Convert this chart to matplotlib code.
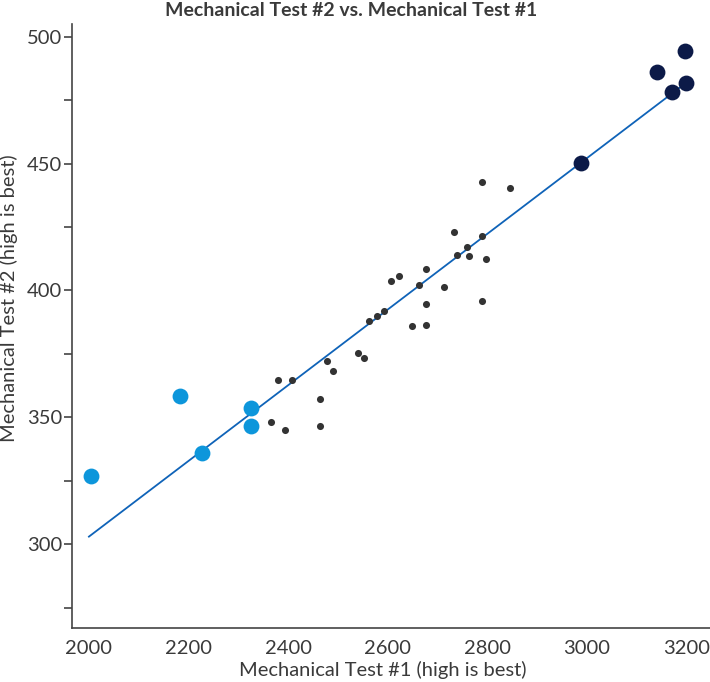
import matplotlib
matplotlib.use("Agg")
import matplotlib.pyplot as plt
from matplotlib.ticker import MultipleLocator

plt.rcParams['font.family'] = ['Lato', 'DejaVu Sans']

# low group (light blue)
low_x = [2004, 2183, 2227, 2325, 2325]
low_y = [326.7, 358.5, 335.8, 353.8, 346.4]

# high group (navy)
high_x = [2987, 3140, 3197, 3171, 3199]
high_y = [450.1, 486.0, 494.5, 478.1, 481.9]

# middle group (grey)
mid_x = [2789, 2845, 2732, 2790, 2760, 2739, 2763, 2797, 2677, 2622,
         2607, 2663, 2713, 2676, 2790, 2593, 2578, 2563, 2648, 2677,
         2541, 2552, 2478, 2491, 2380, 2408, 2463, 2365, 2394, 2463]
mid_y = [442.9, 440.4, 423.1, 421.5, 417.2, 414.0, 413.7, 412.3, 408.3, 405.8,
         403.7, 402.3, 401.5, 394.6, 396.0, 391.8, 389.9, 387.8, 386.1, 386.3,
         375.3, 373.4, 372.3, 368.3, 364.6, 364.8, 357.4, 348.0, 345.2, 346.7]

# fitted line end points
fit_x = [2000, 3200]
fit_y = [303, 482]

text_col = '#3a3a3a'

fig = plt.figure(figsize=(7.1, 6.82), dpi=100)
ax = fig.add_axes([0.1014, 0.0792, 0.8986, 0.8856])

ax.plot(fit_x, fit_y, color='#0F63B8', lw=1.3, zorder=2)
ax.scatter(mid_x, mid_y, s=26, color='#333333', zorder=3, linewidths=0)
ax.scatter(low_x, low_y, s=130, color='#0D96DB', zorder=3, linewidths=0)
ax.scatter(high_x, high_y, s=130, color='#0C1A48', zorder=3, linewidths=0)

ax.set_xlim(1966, 3247)
ax.set_ylim(267, 505)
ax.set_xticks([2000, 2200, 2400, 2600, 2800, 3000, 3200])
ax.set_yticks([300, 350, 400, 450, 500])
ax.yaxis.set_minor_locator(MultipleLocator(25))

for s in ['top', 'right']:
    ax.spines[s].set_visible(False)
for s in ['left', 'bottom']:
    ax.spines[s].set_color('#444444')
    ax.spines[s].set_linewidth(1.2)

ax.tick_params(axis='y', which='both', length=6, width=1.2, color='#444444',
               labelsize=14.5, labelcolor=text_col, pad=1)
ax.tick_params(axis='x', length=0, labelsize=14.5, labelcolor=text_col, pad=9)

ax.set_xlabel('Mechanical Test #1 (high is best)', fontsize=14.5, color=text_col)
ax.xaxis.set_label_coords(0.487, -0.054)
ax.set_ylabel('Mechanical Test #2 (high is best)', fontsize=14.5, color=text_col)
ax.yaxis.set_label_coords(-0.085, 0.546)
fig.text(0.495, 0.997, 'Mechanical Test #2 vs. Mechanical Test #1', ha='center', va='top',
         fontsize=14, fontweight='bold', color=text_col)

fig.savefig('out.png', dpi=100)
